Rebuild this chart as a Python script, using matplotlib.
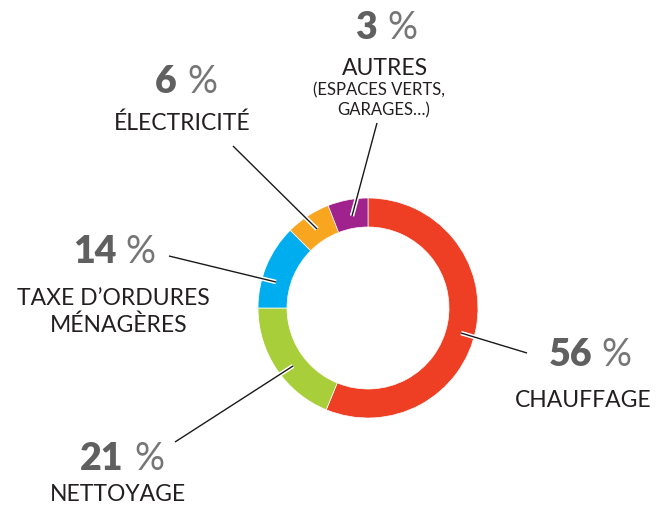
import matplotlib
matplotlib.use('Agg')
import matplotlib.pyplot as plt
import matplotlib.patheffects as pe

# ---- data ----
categories = ['CHAUFFAGE', 'NETTOYAGE', 'TAXE D’ORDURES\nMÉNAGÈRES', 'ÉLECTRICITÉ', 'AUTRES']
sub_labels = ['', '', '', '', '(ESPACES VERTS,\nGARAGES…)']
pct_labels = [56, 21, 14, 6, 3]
# arc sizes as actually drawn in the reference ring
arc_shares = [56.2, 18.8, 12.5, 6.6, 5.9]
colors = ['#EE3F24', '#A8CE3A', '#00AEEF', '#F8A51F', '#A0228D']

W, H = 656, 506
fig = plt.figure(figsize=(W / 100, H / 100), dpi=100)
ax = fig.add_axes([0, 0, 1, 1])
cx, cy = 368, H - 309
ax.pie(arc_shares, colors=colors, startangle=90, counterclock=False,
       radius=110, center=(cx, cy),
       wedgeprops=dict(width=29, edgecolor='white', linewidth=0.5))
ax.set_xlim(0, W)
ax.set_ylim(0, H)
ax.set_aspect('equal')
ax.axis('off')

FONT = 'Lato'
NUM_COL = '#606060'
PCT_COL = '#767676'
TXT_COL = '#231F20'

# layout (pixel coords, y from top): split x between number and %, baseline y,
# label lines (center x, baseline y, size), leader (ring end, outer end)
layout = [
    dict(nx=592, px=601, ny=366, lab=[(583, 407, 16.5)], lead=((461, 334), (527, 354))),
    dict(nx=123, px=134, ny=470, lab=[(118, 501, 16.5)], lead=((293, 367), (175, 443))),
    dict(nx=117, px=125, ny=263, lab=[(113, 305, 16.5), (119, 332, 16.5)], lead=((276, 283), (169, 257))),
    dict(nx=177, px=187, ny=93, lab=[(182, 130, 16.5)], lead=((317, 230), (233, 147))),
    dict(nx=377, px=387, ny=39, lab=[(385, 75, 16.5), (379, 95, 12), (384, 115, 12)], lead=((352, 217), (377, 124))),
]

for i, L in enumerate(layout):
    ax.text(L['nx'], H - L['ny'], str(pct_labels[i]), ha='right', va='baseline',
            fontsize=27, fontweight='heavy', color=NUM_COL, family=FONT)
    ax.text(L['px'], H - L['ny'], '%', ha='left', va='baseline',
            fontsize=27, fontweight='normal', color=PCT_COL, family=FONT)
    lines = categories[i].split('\n') + (sub_labels[i].split('\n') if sub_labels[i] else [])
    for (tx, ty, fs), s in zip(L['lab'], lines):
        ax.text(tx, H - ty, s, ha='center', va='baseline', fontsize=fs,
                color=TXT_COL, family=FONT)
    (x0, y0), (x1, y1) = L['lead']
    ax.plot([x0, x1], [H - y0, H - y1], color='#1a1a1a', lw=1.0,
            solid_capstyle='butt',
            path_effects=[pe.Stroke(linewidth=3.2, foreground='white'), pe.Normal()])

fig.savefig('out.png', dpi=100)
